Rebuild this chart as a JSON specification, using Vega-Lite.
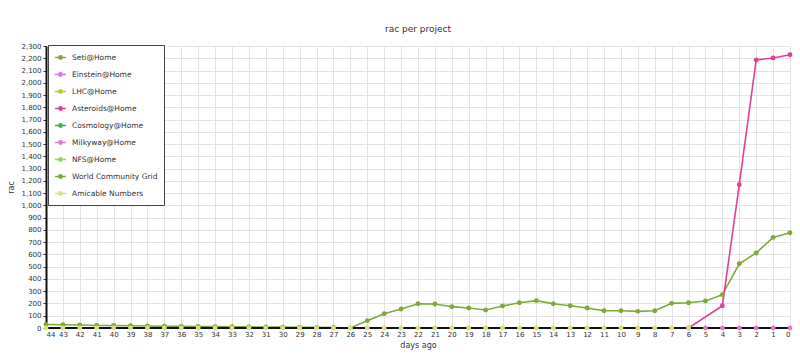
{
  "$schema": "https://vega.github.io/schema/vega-lite/v6.json",
  "autosize": "none",
  "width": 744,
  "height": 282,
  "padding": {"left": 46, "top": 46, "right": 10, "bottom": 35},
  "background": "white",
  "title": {"text": "rac per project", "fontSize": 9, "font": "DejaVu Sans", "fontWeight": "normal", "color": "#333", "offset": 8},
  "config": {
    "view": {"stroke": null},
    "axis": {"labelFont": "DejaVu Sans", "titleFont": "DejaVu Sans", "labelFontSize": 7, "titleFontSize": 8, "titleFontWeight": "normal", "labelColor": "#333", "titleColor": "#333", "gridColor": "#e3e3e3", "gridWidth": 1, "tickSize": 3, "tickColor": "#333"}
  },
  "data": {"values": [
    {"project": "World Community Grid", "day": 44, "rac": 28},
    {"project": "World Community Grid", "day": 43, "rac": 26},
    {"project": "World Community Grid", "day": 42, "rac": 24},
    {"project": "World Community Grid", "day": 41, "rac": 21},
    {"project": "World Community Grid", "day": 40, "rac": 20},
    {"project": "World Community Grid", "day": 39, "rac": 18},
    {"project": "World Community Grid", "day": 38, "rac": 16},
    {"project": "World Community Grid", "day": 37, "rac": 14},
    {"project": "World Community Grid", "day": 36, "rac": 13},
    {"project": "World Community Grid", "day": 35, "rac": 12},
    {"project": "World Community Grid", "day": 34, "rac": 11},
    {"project": "World Community Grid", "day": 33, "rac": 10},
    {"project": "World Community Grid", "day": 32, "rac": 9},
    {"project": "World Community Grid", "day": 31, "rac": 8},
    {"project": "World Community Grid", "day": 30, "rac": 7},
    {"project": "World Community Grid", "day": 29, "rac": 6},
    {"project": "World Community Grid", "day": 28, "rac": 5},
    {"project": "World Community Grid", "day": 27, "rac": 4},
    {"project": "World Community Grid", "day": 26, "rac": 0},
    {"project": "World Community Grid", "day": 25, "rac": 60},
    {"project": "World Community Grid", "day": 24, "rac": 117},
    {"project": "World Community Grid", "day": 23, "rac": 155},
    {"project": "World Community Grid", "day": 22, "rac": 198},
    {"project": "World Community Grid", "day": 21, "rac": 196},
    {"project": "World Community Grid", "day": 20, "rac": 174},
    {"project": "World Community Grid", "day": 19, "rac": 163},
    {"project": "World Community Grid", "day": 18, "rac": 147},
    {"project": "World Community Grid", "day": 17, "rac": 179},
    {"project": "World Community Grid", "day": 16, "rac": 206},
    {"project": "World Community Grid", "day": 15, "rac": 223},
    {"project": "World Community Grid", "day": 14, "rac": 198},
    {"project": "World Community Grid", "day": 13, "rac": 182},
    {"project": "World Community Grid", "day": 12, "rac": 163},
    {"project": "World Community Grid", "day": 11, "rac": 141},
    {"project": "World Community Grid", "day": 10, "rac": 141},
    {"project": "World Community Grid", "day": 9, "rac": 136},
    {"project": "World Community Grid", "day": 8, "rac": 141},
    {"project": "World Community Grid", "day": 7, "rac": 201},
    {"project": "World Community Grid", "day": 6, "rac": 206},
    {"project": "World Community Grid", "day": 5, "rac": 220},
    {"project": "World Community Grid", "day": 4, "rac": 272},
    {"project": "World Community Grid", "day": 3, "rac": 524},
    {"project": "World Community Grid", "day": 2, "rac": 612},
    {"project": "World Community Grid", "day": 1, "rac": 739},
    {"project": "World Community Grid", "day": 0, "rac": 777},
    {"project": "Asteroids@Home", "day": 6, "rac": 0},
    {"project": "Asteroids@Home", "day": 4, "rac": 182},
    {"project": "Asteroids@Home", "day": 3, "rac": 1169},
    {"project": "Asteroids@Home", "day": 2, "rac": 2186},
    {"project": "Asteroids@Home", "day": 1, "rac": 2202},
    {"project": "Asteroids@Home", "day": 0, "rac": 2229},
    {"project": "Milkyway@Home", "day": 5, "rac": 0},
    {"project": "Milkyway@Home", "day": 4, "rac": 0},
    {"project": "Milkyway@Home", "day": 3, "rac": 0},
    {"project": "Milkyway@Home", "day": 2, "rac": 0},
    {"project": "Milkyway@Home", "day": 1, "rac": 0},
    {"project": "Milkyway@Home", "day": 0, "rac": 0},
    {"project": "Amicable Numbers", "day": 44, "rac": 0},
    {"project": "Amicable Numbers", "day": 43, "rac": 0},
    {"project": "Amicable Numbers", "day": 42, "rac": 0},
    {"project": "Amicable Numbers", "day": 41, "rac": 0},
    {"project": "Amicable Numbers", "day": 40, "rac": 0},
    {"project": "Amicable Numbers", "day": 39, "rac": 0},
    {"project": "Amicable Numbers", "day": 38, "rac": 0},
    {"project": "Amicable Numbers", "day": 37, "rac": 0},
    {"project": "Amicable Numbers", "day": 36, "rac": 0},
    {"project": "Amicable Numbers", "day": 35, "rac": 0},
    {"project": "Amicable Numbers", "day": 34, "rac": 0},
    {"project": "Amicable Numbers", "day": 33, "rac": 0},
    {"project": "Amicable Numbers", "day": 32, "rac": 0},
    {"project": "Amicable Numbers", "day": 31, "rac": 0},
    {"project": "Amicable Numbers", "day": 30, "rac": 0},
    {"project": "Amicable Numbers", "day": 29, "rac": 0},
    {"project": "Amicable Numbers", "day": 28, "rac": 0},
    {"project": "Amicable Numbers", "day": 27, "rac": 0},
    {"project": "Amicable Numbers", "day": 26, "rac": 0},
    {"project": "Amicable Numbers", "day": 25, "rac": 0},
    {"project": "Amicable Numbers", "day": 24, "rac": 0},
    {"project": "Amicable Numbers", "day": 23, "rac": 0},
    {"project": "Amicable Numbers", "day": 22, "rac": 0},
    {"project": "Amicable Numbers", "day": 21, "rac": 0},
    {"project": "Amicable Numbers", "day": 20, "rac": 0},
    {"project": "Amicable Numbers", "day": 19, "rac": 0},
    {"project": "Amicable Numbers", "day": 18, "rac": 0},
    {"project": "Amicable Numbers", "day": 17, "rac": 0},
    {"project": "Amicable Numbers", "day": 16, "rac": 0},
    {"project": "Amicable Numbers", "day": 15, "rac": 0},
    {"project": "Amicable Numbers", "day": 14, "rac": 0},
    {"project": "Amicable Numbers", "day": 13, "rac": 0},
    {"project": "Amicable Numbers", "day": 12, "rac": 0},
    {"project": "Amicable Numbers", "day": 11, "rac": 0},
    {"project": "Amicable Numbers", "day": 10, "rac": 0},
    {"project": "Amicable Numbers", "day": 9, "rac": 0},
    {"project": "Amicable Numbers", "day": 8, "rac": 0},
    {"project": "Amicable Numbers", "day": 7, "rac": 0},
    {"project": "Amicable Numbers", "day": 6, "rac": 0}
  ]},
  "encoding": {
    "x": {"field": "day", "type": "quantitative", "title": "days ago",
      "scale": {"domain": [0, 44], "reverse": true, "nice": false, "zero": false},
      "axis": {"values": [44,43,42,41,40,39,38,37,36,35,34,33,32,31,30,29,28,27,26,25,24,23,22,21,20,19,18,17,16,15,14,13,12,11,10,9,8,7,6,5,4,3,2,1,0], "format": "d", "labelPadding": 2, "titlePadding": 4, "domain": false, "ticks": false}},
    "y": {"field": "rac", "type": "quantitative", "title": "rac",
      "scale": {"domain": [0, 2300], "nice": false},
      "axis": {"values": [0,100,200,300,400,500,600,700,800,900,1000,1100,1200,1300,1400,1500,1600,1700,1800,1900,2000,2100,2200,2300], "format": ",d", "domainColor": "#111", "domainWidth": 2, "labelPadding": 2, "titlePadding": 5}},
    "color": {"field": "project", "type": "nominal",
      "scale": {"domain": ["Seti@Home", "Einstein@Home", "LHC@Home", "Asteroids@Home", "Cosmology@Home", "Milkyway@Home", "NFS@Home", "World Community Grid", "Amicable Numbers"],
        "range": ["#8c9a4e", "#c97ddc", "#b5cc3c", "#e0409a", "#3cb34e", "#e07cc4", "#8ed45e", "#7fa83a", "#d9e07e"]},
      "legend": {"title": null, "orient": "none", "legendX": 2, "legendY": -1, "fillColor": "white", "strokeColor": "#444", "padding": 6, "rowPadding": 5, "labelFont": "DejaVu Sans", "labelFontSize": 7.5, "labelColor": "#333", "symbolType": "M-1,0L1,0M-0.3,0A0.3,0.3 0 1,0 0.3,0A0.3,0.3 0 1,0 -0.3,0", "symbolSize": 120, "symbolStrokeWidth": 1.6, "labelOffset": 5,
        "encode": {"symbols": {"update": {"fill": {"scale": "color", "field": "value"}, "stroke": {"scale": "color", "field": "value"}, "fillOpacity": {"value": 1}}}}}}
  },
  "layer": [
    {"mark": {"type": "line", "strokeWidth": 1.6}, "encoding": {"detail": {"field": "project"}}},
    {"mark": {"type": "rule", "color": "#111", "strokeWidth": 2}, "encoding": {"y": {"datum": 0}, "x": null, "color": null}},
    {"mark": {"type": "point", "filled": true, "size": 24, "opacity": 1}}
  ]
}
